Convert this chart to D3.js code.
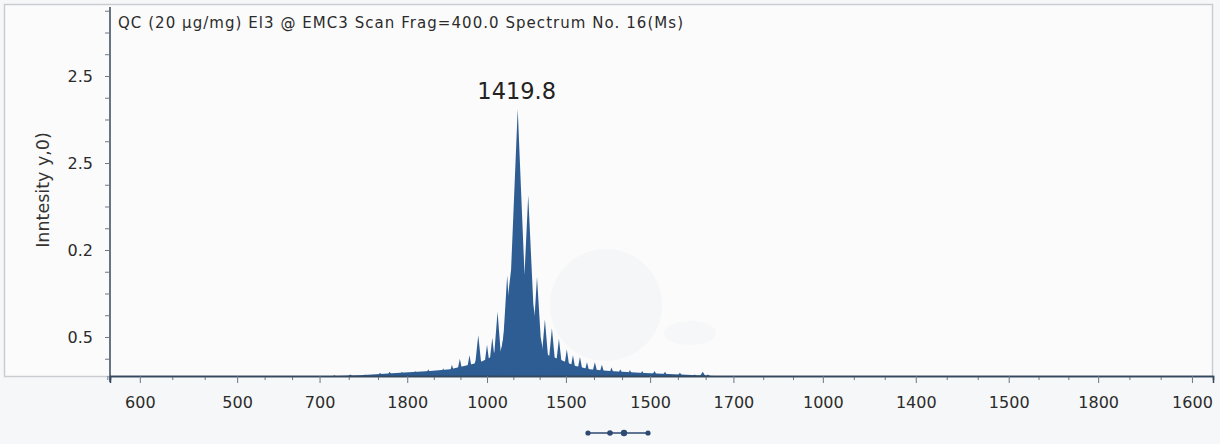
<!DOCTYPE html>
<html>
<head>
<meta charset="utf-8">
<script src="https://cdn.jsdelivr.net/npm/d3@7"></script>
<style>
  body { margin: 0; background: #f6f7f8; }
  text { font-family: "DejaVu Sans", sans-serif; }
</style>
</head>
<body>
<script>
// chart text
var titleText = "QC (20 \u00b5g/mg) El3 @ EMC3 Scan Frag=400.0 Spectrum No. 16(Ms)";
var yTitle = "Inntesity y,0)";
var peakLabel = "1419.8";

// axis ticks as printed on the picture
var xTickValues = [600, 711, 805, 905, 996, 1086, 1182, 1277, 1379, 1485, 1591, 1693, 1800];
var xTickLabels = ["600", "500", "700", "1800", "1000", "1500", "1500", "1700", "1000", "1400", "1500", "1800", "1600"];
var yTickValues = [0.5, 1.5, 2.5, 3.5];
var yTickLabels = ["0.5", "0.2", "2.5", "2.5"];

// spectrum peaks, [m/z, intensity]
var peaks = [
  [822, 0.06], [840, 0.07], [857, 0.07], [874, 0.09], [885, 0.10],
  [899, 0.10], [914, 0.11], [929, 0.13], [946, 0.14], [956, 0.18],
  [965, 0.25], [976, 0.29], [986, 0.52], [996, 0.41], [1002, 0.49],
  [1008, 0.79], [1019, 1.21], [1031, 3.12], [1043, 2.13], [1053, 1.19],
  [1062, 0.70], [1070, 0.60], [1078, 0.48], [1087, 0.36], [1094, 0.29],
  [1102, 0.27], [1110, 0.21], [1119, 0.21], [1127, 0.18], [1138, 0.15],
  [1148, 0.13], [1159, 0.12], [1173, 0.11], [1187, 0.11], [1199, 0.10],
  [1216, 0.09], [1233, 0.07], [1242, 0.10], [1248, 0.07]
];

// low background under the peaks, [m/z, intensity]
var envelope = [
  [805, 0.04], [812, 0.05], [851, 0.06], [897, 0.09], [931, 0.11],
  [954, 0.13], [971, 0.17], [988, 0.21], [999, 0.26], [1011, 0.33],
  [1016, 0.47], [1024, 0.87], [1031, 0.98], [1038, 0.93], [1048, 0.47],
  [1056, 0.33], [1068, 0.28], [1079, 0.24], [1096, 0.17], [1113, 0.13],
  [1136, 0.11], [1170, 0.09], [1216, 0.07], [1262, 0.05], [1268, 0.04]
];

var width = 1220,
    height = 444;

var svg = d3.select("body").append("svg")
    .attr("width", width)
    .attr("height", height)
    .style("display", "block");

var x = d3.scaleLinear().domain([566, 1824]).range([110, 1213]);
var y = d3.scaleLinear().domain([0.04, 4.316]).range([377, 5]);
var base = y.domain()[0];

// frame
svg.append("rect")
    .attr("x", 4.5).attr("y", 4.5)
    .attr("width", 1208).attr("height", 372)
    .attr("fill", "#fbfbfb")
    .attr("stroke", "#c9cdd2")
    .attr("stroke-width", 1.5);

// faint watermark
svg.append("circle").attr("cx", 606).attr("cy", 305).attr("r", 56)
    .attr("fill", "#f5f6f8");
svg.append("ellipse").attr("cx", 690).attr("cy", 333).attr("rx", 26).attr("ry", 12)
    .attr("fill", "#f5f7f8");

// spectrum
var color = "#2e5d93";

var area = d3.area()
    .x(function(d) { return x(d[0]); })
    .y0(y(base))
    .y1(function(d) { return y(d[1]); });

svg.append("path")
    .datum(envelope)
    .attr("d", area)
    .attr("fill", color);

var spike = d3.line()
    .x(function(d) { return x(d[0]); })
    .y(function(d) { return y(d[1]); });

svg.selectAll(".peak")
    .data(peaks)
    .enter().append("path")
    .attr("class", "peak")
    .attr("fill", color)
    .attr("d", function(d) {
        var w = 6 + 5 * d[1];
        var h = d[1] - base;
        return spike([
            [d[0] - w, base],
            [d[0] - 0.35 * w, base + 0.4 * h],
            [d[0], d[1]],
            [d[0] + 0.35 * w, base + 0.4 * h],
            [d[0] + w, base]
        ]) + "Z";
    });

// axes
var minorX = [];
xTickValues.forEach(function(v, i) {
    if (i < xTickValues.length - 1) {
        var step = (xTickValues[i + 1] - v) / 3;
        minorX.push(v + step, v + 2 * step);
    }
});
minorX.unshift(xTickValues[0] - (xTickValues[1] - xTickValues[0]) / 3);

var gx = svg.append("g").attr("transform", "translate(0,376)");
gx.append("g").call(d3.axisBottom(x).tickValues(minorX).tickSize(4).tickFormat(""))
    .selectAll("text").remove();
gx.append("g").call(d3.axisBottom(x).tickValues(xTickValues).tickSize(7)
    .tickFormat(function(d, i) { return xTickLabels[i]; }));
gx.selectAll(".domain").attr("stroke", "#34475c").attr("stroke-width", 1.5);
gx.selectAll(".tick line").attr("stroke", "#6b7785");
gx.selectAll(".tick text")
    .attr("font-size", 16)
    .attr("fill", "#2b2b2b")
    .attr("dy", "1.4em");

var minorY = d3.range(1, 18).map(function(k) { return k * 0.25; });
var gy = svg.append("g").attr("transform", "translate(110,0)");
gy.call(d3.axisLeft(y).tickValues(minorY).tickSize(5)
    .tickFormat(function(d) {
        var i = yTickValues.indexOf(d);
        return i >= 0 ? yTickLabels[i] : "";
    }));
gy.select(".domain").attr("d", "M0,7V382").attr("stroke", "#34475c").attr("stroke-width", 1.5);
gy.selectAll(".tick line").attr("stroke", "#6b7785");
gy.selectAll(".tick text")
    .filter(function() { return this.textContent === ""; })
    .remove();
gy.selectAll(".tick text")
    .attr("font-size", 16)
    .attr("fill", "#2b2b2b")
    .attr("x", -17);

// y title
svg.append("text")
    .attr("transform", "translate(49,190) rotate(-90)")
    .attr("text-anchor", "middle")
    .attr("font-size", 17.5)
    .attr("fill", "#333")
    .text(yTitle);

// title
svg.append("text")
    .attr("x", 118).attr("y", 28)
    .attr("font-size", 15)
    .attr("textLength", 565)
    .attr("lengthAdjust", "spacing")
    .attr("fill", "#2b2b2b")
    .text(titleText);

// main peak label
var maxPeak = peaks.reduce(function(a, b) { return b[1] > a[1] ? b : a; });
svg.append("text")
    .attr("x", x(maxPeak[0]) - 1)
    .attr("y", y(maxPeak[1]) - 10)
    .attr("text-anchor", "middle")
    .attr("font-size", 22.5)
    .attr("fill", "#222")
    .text(peakLabel);

// small marker under the axis
var mk = svg.append("g").attr("transform", "translate(586,433)");
mk.append("line").attr("x1", 0).attr("x2", 64).attr("y1", 0).attr("y2", 0)
    .attr("stroke", "#2d4a72").attr("stroke-width", 1.6);
[[2, 2.6], [24, 2.8], [38, 3.2], [62, 2.6]].forEach(function(p) {
    mk.append("circle").attr("cx", p[0]).attr("cy", 0).attr("r", p[1]).attr("fill", "#2d4a72");
});
</script>
</body>
</html>
